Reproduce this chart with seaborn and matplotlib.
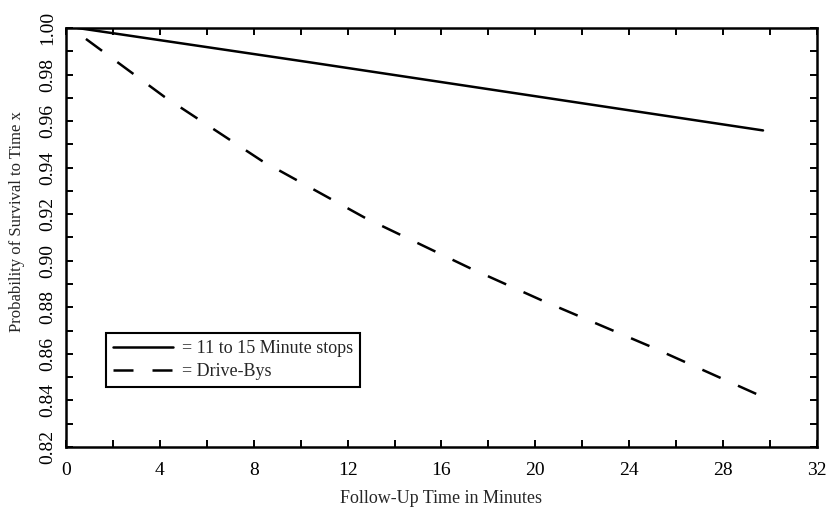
import numpy as np
import pandas as pd
import matplotlib
matplotlib.use("Agg")
import matplotlib.pyplot as plt
import seaborn as sns
from matplotlib.ticker import MultipleLocator

# survival curves
stops_time = [0.5, 10.3, 29.7]
stops_surv = [1.000, 0.9854, 0.956]

driveby_time = [0.85, 4.2, 8.35, 12.75, 17.2, 20.25, 24.85, 29.7]
driveby_surv = [0.9953, 0.9704, 0.9429, 0.9184, 0.8969, 0.8831, 0.8634, 0.8415]

x_ticks = [0, 4, 8, 12, 16, 20, 24, 28, 32]
y_ticks = [0.82, 0.84, 0.86, 0.88, 0.90, 0.92, 0.94, 0.96, 0.98, 1.00]

sns.set_theme(style="ticks")
plt.rcParams['font.family'] = ['Liberation Serif', 'DejaVu Serif']

fig = plt.figure(figsize=(8.27, 5.14), dpi=100)
ax = fig.add_axes([0.0798, 0.1304, 0.9081, 0.8151])

df_stops = pd.DataFrame({'t': stops_time, 'p': stops_surv})
df_drive = pd.DataFrame({'t': driveby_time, 'p': driveby_surv})

sns.lineplot(data=df_stops, x='t', y='p', ax=ax, color='black', lw=1.8,
             label='= 11 to 15 Minute stops', sort=False)
sns.lineplot(data=df_drive, x='t', y='p', ax=ax, color='black', lw=1.8,
             label='= Drive-Bys', sort=False)
ax.lines[1].set_dashes((8, 7.6))

ax.set_xlim(0, 32)
ax.set_ylim(0.82, 1.00)
ax.set_xticks(x_ticks)
ax.set_yticks(y_ticks)
ax.set_xticklabels([str(v) for v in x_ticks])
ax.set_yticklabels(['%.2f' % v for v in y_ticks], rotation=90, va='center')
ax.xaxis.set_minor_locator(MultipleLocator(2))
ax.yaxis.set_minor_locator(MultipleLocator(0.01))
ax.tick_params(which='both', direction='in', top=True, right=True,
               length=5, width=1.4, colors='black', labelsize=14)
ax.tick_params(axis='x', pad=11)
ax.tick_params(axis='y', pad=7)

for s in ax.spines.values():
    s.set_linewidth(1.8)
    s.set_color('black')

ax.set_xlabel('Follow-Up Time in Minutes', fontsize=13, labelpad=8)
ax.set_ylabel('Probability of Survival to Time x', fontsize=12, labelpad=10)
ax.yaxis.label.set_y(0.537)

leg = ax.legend(loc='lower left', bbox_to_anchor=(0.053, 0.143),
                fontsize=13, frameon=True, fancybox=False, handlelength=3.3,
                borderpad=0.4, labelspacing=0.3, handletextpad=0.5,
                borderaxespad=0)
leg.get_frame().set_edgecolor('black')
leg.get_frame().set_linewidth(1.5)
leg.get_frame().set_alpha(1)
leg.get_lines()[1].set_dashes((8, 7.6))

fig.savefig('out.png', dpi=100)
